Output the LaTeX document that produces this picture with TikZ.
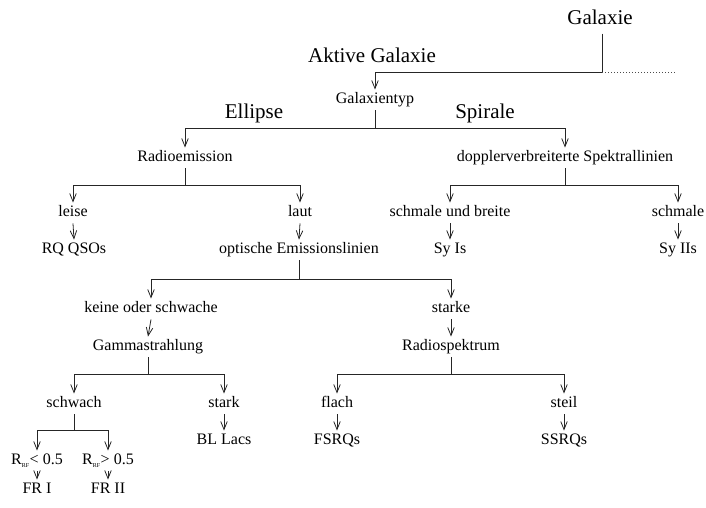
\documentclass[tikz,border=0pt]{standalone}
\usepackage{fontspec}
\setmainfont{Liberation Serif}
\usepackage{tikz}
\usetikzlibrary{arrows.meta}

\begin{document}
\begin{tikzpicture}[x=1pt,y=-1pt,
  lbl/.style={inner sep=3pt,text height=11pt,text depth=3.5pt,font=\fontsize{16}{18}\selectfont},
  bigl/.style={inner sep=2pt,font=\fontsize{21}{24}\selectfont},
  ln/.style={line width=0.8pt,draw=black!85},
  arr/.style={ln,-{Straight Barb[length=8pt,width=6.5pt]}},
  dots/.style={line width=0.8pt,draw=black!70,dash pattern=on 1pt off 2pt}]
\useasboundingbox (0,0) rectangle (706,507);

\node[bigl,inner sep=9pt] (gal) at (600,17) {Galaxie};
\node[bigl] (aktiv) at (372,55) {Aktive Galaxie};
\node[lbl] (typ) at (375,100) {Galaxientyp};
\node[bigl] (ell) at (254,113) {Ellipse};
\node[bigl] (spi) at (485,113) {Spirale};

\node[lbl] (rad) at (185,158) {Radioemission};
\node[lbl] (dop) at (565,158) {dopplerverbreiterte Spektrallinien};
\node[lbl] (leise) at (73,213) {leise};
\node[lbl] (laut) at (300,213) {laut};
\node[lbl] (breit) at (450,213) {schmale und breite};
\node[lbl] (schmal) at (678,213) {schmale};
\node[lbl] (rq) at (74,250) {RQ QSOs};
\node[lbl] (opt) at (299,250) {optische Emissionslinien};
\node[lbl] (syi) at (450,250) {Sy Is};
\node[lbl] (syii) at (678,250) {Sy IIs};

\node[lbl] (keine) at (151,309) {keine oder schwache};
\node[lbl] (starke) at (451,309) {starke};
\node[lbl] (gamma) at (148,347) {Gammastrahlung};
\node[lbl] (radsp) at (451,347) {Radiospektrum};
\node[lbl] (schwach) at (74,404) {schwach};
\node[lbl] (stark) at (224,404) {stark};
\node[lbl] (flach) at (337,404) {flach};
\node[lbl] (steil) at (564,404) {steil};
\node[lbl] (blac) at (224,441) {BL Lacs};
\node[lbl] (fsrq) at (337,441) {FSRQs};
\node[lbl] (ssrq) at (564,441) {SSRQs};
\node[lbl] (rlow) at (37,461) {R\textsubscript{\fontsize{6}{6}\selectfont RF}< 0.5};
\node[lbl] (rhigh) at (108,461) {R\textsubscript{\fontsize{6}{6}\selectfont RF}> 0.5};
\node[lbl] (fri) at (37,490) {FR I};
\node[lbl] (frii) at (108,490) {FR II};

\coordinate (galfork) at (602,72);
\coordinate (galend) at (676,72);
\draw[ln] (gal.south -| galfork) -- (galfork);
\draw[arr] (galfork) -| (typ.north);
\draw[dots] (galfork) -- (galend);

\draw[arr] (typ.south) -- ++(0,18) -| (rad.north);
\draw[arr] (typ.south) -- ++(0,18) -| (dop.north);

\draw[arr] (rad.south) -- ++(0,17) -| (leise.north);
\draw[arr] (rad.south) -- ++(0,17) -| (laut.north);
\draw[arr] (dop.south) -- ++(0,17) -| (breit.north);
\draw[arr] (dop.south) -- ++(0,17) -| (schmal.north);

\draw[arr] (leise.south) -- (rq.north);
\draw[arr] (laut.south) -- (opt.north);
\draw[arr] (breit.south) -- (syi.north);
\draw[arr] (schmal.south) -- (syii.north);

\draw[arr] (opt.south) -- ++(0,19) -| (keine.north);
\draw[arr] (opt.south) -- ++(0,19) -| (starke.north);
\draw[arr] (keine.south) -- (gamma.north);
\draw[arr] (starke.south) -- (radsp.north);

\draw[arr] (gamma.south) -- ++(0,17) -| (schwach.north);
\draw[arr] (gamma.south) -- ++(0,17) -| (stark.north);
\draw[arr] (radsp.south) -- ++(0,17) -| (flach.north);
\draw[arr] (radsp.south) -- ++(0,17) -| (steil.north);
\draw[arr] (stark.south) -- (blac.north);
\draw[arr] (flach.south) -- (fsrq.north);
\draw[arr] (steil.south) -- (ssrq.north);

\draw[arr] (schwach.south) -- ++(0,16) -| (rlow.north);
\draw[arr] (schwach.south) -- ++(0,16) -| (rhigh.north);
\draw[arr] (rlow.south) -- (fri.north);
\draw[arr] (rhigh.south) -- (frii.north);
\end{tikzpicture}
\end{document}
